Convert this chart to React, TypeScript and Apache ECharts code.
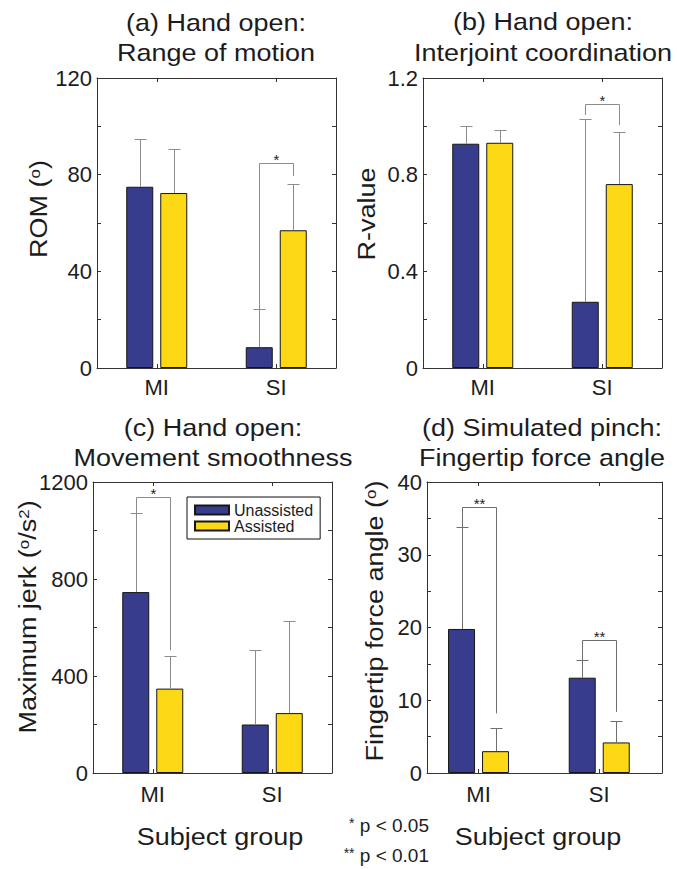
import React, { useEffect, useRef } from 'react';
import * as echarts from 'echarts';

// ---------------- data ----------------
const groups = ['MI', 'SI'];
const seriesNames = ['Unassisted', 'Assisted'];

// (a) Range of motion (deg)
const romUnassisted = [75, 8.6];
const romUnassistedSd = [19.7, 15.8];
const romAssisted = [72.4, 57];
const romAssistedSd = [18.2, 19];

// (b) Interjoint coordination (R-value)
const rUnassisted = [0.928, 0.274];
const rUnassistedSd = [0.074, 0.755];
const rAssisted = [0.932, 0.761];
const rAssistedSd = [0.054, 0.214];

// (c) Maximum jerk (deg/s^2)
const jerkUnassisted = [746, 200];
const jerkUnassistedSd = [326, 306];
const jerkAssisted = [348, 247];
const jerkAssistedSd = [134, 381];

// (d) Fingertip force angle (deg)
const angleUnassisted = [19.8, 13.1];
const angleUnassistedSd = [14.0, 2.4];
const angleAssisted = [3.0, 4.2];
const angleAssistedSd = [3.25, 3.0];

// y-axis ticks: [max, tick step, label step]
const romTicks = [120, 20, 40];
const rTicks = [1.2, 0.2, 0.4];
const jerkTicks = [1200, 200, 400];
const angleTicks = [40, 5, 10];

// significance brackets: [group index, bracket level, left leg end, right leg end]
const romBrackets = [[1, 84.7, 24.4, 79.4]];
const romBracketLabels = ['*'];
const rBrackets = [[1, 1.093, 1.047, 1.005]];
const rBracketLabels = ['*'];
const jerkBrackets = [[0, 1138, 1072, 506]];
const jerkBracketLabels = ['*'];
const angleBrackets = [[0, 36.6, 33.8, 8.2], [1, 18.3, 15.5, 8.4]];
const angleBracketLabels = ['**', '**'];

// ---------------- styles ----------------
const FONT = '"Liberation Sans", Arial, Helvetica, sans-serif';
const BLUE = '#373c8d';
const YELLOW = '#fcd815';
const AXIS = '#333333';
const TEXT = '#1c1c1c';
const ERR = '#8c8c8c';
const BAR_W = 27;
const BAR_GAP_PX = 7;
const OFF = (BAR_W + BAR_GAP_PX) / 2;
const CAP = 6;

type Panel = {
  grid: { left: number; top: number; width: number; height: number };
  xRange: [number, number];
  ticks: number[];
  un: number[]; unSd: number[]; as: number[]; asSd: number[];
  brackets: number[][]; bracketLabels: string[];
  errColor: string;
  labelMargin: number;
};

const panels: Panel[] = [
  { grid: { left: 97, top: 78, width: 239, height: 290 }, xRange: [0.5, 2.5], ticks: romTicks,
    un: romUnassisted, unSd: romUnassistedSd, as: romAssisted, asSd: romAssistedSd,
    brackets: romBrackets, bracketLabels: romBracketLabels, errColor: ERR, labelMargin: 8 },
  { grid: { left: 423, top: 78, width: 239, height: 290 }, xRange: [0.5, 2.5], ticks: rTicks,
    un: rUnassisted, unSd: rUnassistedSd, as: rAssisted, asSd: rAssistedSd,
    brackets: rBrackets, bracketLabels: rBracketLabels, errColor: ERR, labelMargin: 8 },
  { grid: { left: 93, top: 482, width: 239, height: 291 }, xRange: [0.5, 2.5], ticks: jerkTicks,
    un: jerkUnassisted, unSd: jerkUnassistedSd, as: jerkAssisted, asSd: jerkAssistedSd,
    brackets: jerkBrackets, bracketLabels: jerkBracketLabels, errColor: ERR, labelMargin: 10 },
  { grid: { left: 427, top: 482, width: 235, height: 291 }, xRange: [0.573, 2.52], ticks: angleTicks,
    un: angleUnassisted, unSd: angleUnassistedSd, as: angleAssisted, asSd: angleAssistedSd,
    brackets: angleBrackets, bracketLabels: angleBracketLabels, errColor: '#6e6e6e', labelMargin: 10 },
];

function fmtLabel(v: number, labelStep: number) {
  const r = Math.round(v / labelStep * 1000) / 1000;
  if (Math.abs(r - Math.round(r)) > 1e-6) return '';
  return String(parseFloat(v.toFixed(3)));
}

function buildOption() {
  const grid: any[] = [];
  const xAxis: any[] = [];
  const yAxis: any[] = [];
  const series: any[] = [];

  panels.forEach((p, i) => {
    grid.push({ ...p.grid, containLabel: false });
    const [ymax, step, labelStep] = p.ticks;
    const tickVals = groups.map((_, k) => k + 1);
    const xBase = {
      type: 'value', gridIndex: i, min: p.xRange[0], max: p.xRange[1],
      splitLine: { show: false },
      axisLine: { show: true, onZero: false, lineStyle: { color: AXIS, width: 1 } },
      axisTick: { show: true, inside: true, length: 4, customValues: tickVals, lineStyle: { color: AXIS } },
    };
    xAxis.push({
      ...xBase, position: 'bottom',
      axisLabel: {
        show: true, customValues: tickVals, margin: p.labelMargin,
        formatter: (v: number) => groups[Math.round(v) - 1] ?? '',
        fontSize: 22, color: TEXT, fontFamily: FONT,
      },
    });
    xAxis.push({ ...xBase, position: 'top', axisLabel: { show: false } });
    const yBase = {
      type: 'value', gridIndex: i, min: 0, max: ymax, interval: step,
      splitLine: { show: false },
      axisLine: { show: true, onZero: false, lineStyle: { color: AXIS, width: 1 } },
      axisTick: { show: true, inside: true, length: 4, lineStyle: { color: AXIS } },
    };
    yAxis.push({
      ...yBase, position: 'left',
      axisLabel: {
        show: true, margin: 5, fontSize: 22, color: TEXT, fontFamily: FONT,
        formatter: (v: number) => fmtLabel(v, labelStep),
      },
    });
    yAxis.push({ ...yBase, position: 'right', axisLabel: { show: false } });

    const xi = 2 * i;
    const yi = 2 * i;
    [p.un, p.as].forEach((vals, s) => {
      series.push({
        type: 'bar', name: seriesNames[s], xAxisIndex: xi, yAxisIndex: yi,
        barWidth: BAR_W, barGap: `${(BAR_GAP_PX / BAR_W) * 100}%`,
        data: vals.map((v, k) => [k + 1, v]),
        itemStyle: { color: s === 0 ? BLUE : YELLOW, borderColor: '#161616', borderWidth: 1 },
        silent: true,
      });
    });

    // error bars
    const errData: number[][] = [];
    groups.forEach((_, k) => {
      errData.push([k + 1, p.un[k], p.unSd[k], -1]);
      errData.push([k + 1, p.as[k], p.asSd[k], 1]);
    });
    const errColor = p.errColor;
    series.push({
      type: 'custom', name: 'err' + i, xAxisIndex: xi, yAxisIndex: yi, silent: true, z: 3,
      encode: { x: 0, y: 1 },
      data: errData,
      renderItem: (params: any, api: any) => {
        const x = api.value(0), m = api.value(1), sd = api.value(2), side = api.value(3);
        const b = api.coord([x, m]);
        const t = api.coord([x, m + sd]);
        const cx = Math.round(b[0] + side * OFF) + 0.5;
        const ty = Math.round(t[1]) + 0.5;
        return {
          type: 'group', children: [
            { type: 'line', shape: { x1: cx, y1: b[1], x2: cx, y2: ty }, style: { stroke: errColor, lineWidth: 1 } },
            { type: 'line', shape: { x1: cx - CAP, y1: ty, x2: cx + CAP, y2: ty }, style: { stroke: errColor, lineWidth: 1 } },
          ],
        };
      },
    });

    // significance brackets
    const labels = p.bracketLabels;
    series.push({
      type: 'custom', name: 'sig' + i, xAxisIndex: xi, yAxisIndex: yi, silent: true, z: 3,
      encode: { x: 0, y: 1 },
      data: p.brackets.map((b) => [b[0] + 1, b[1], b[2], b[3]]),
      renderItem: (params: any, api: any) => {
        const x = api.value(0), lvl = api.value(1), le = api.value(2), re = api.value(3);
        const c = api.coord([x, lvl]);
        const l = api.coord([x, le]);
        const r = api.coord([x, re]);
        const xl = Math.round(c[0] - OFF) + 0.5;
        const xr = Math.round(c[0] + OFF) + 0.5;
        const yl = Math.round(c[1]) + 0.5;
        return {
          type: 'group', children: [
            { type: 'polyline', shape: { points: [[xl, l[1]], [xl, yl], [xr, yl], [xr, r[1]]] },
              style: { stroke: errColor, lineWidth: 1, fill: 'none' } },
            { type: 'text', style: { text: labels[params.dataIndex], x: (xl + xr) / 2, y: yl - 4,
              align: 'center', verticalAlign: 'middle', fontSize: 15, fill: TEXT, fontFamily: FONT } },
          ],
        };
      },
    });
  });

  const T = (x: number, y: number, text: string, extra: any = {}) => ({
    type: 'text', x, y, scaleX: 1.125, silent: true,
    style: { text, align: 'center', verticalAlign: 'middle', fontSize: 24, fill: TEXT, fontFamily: FONT, ...extra },
  });
  const sup = { fontSize: 15, verticalAlign: 'top', fontFamily: FONT, fill: TEXT };
  const norm = { fontSize: 24, fontFamily: FONT, fill: TEXT };

  const graphic: any[] = [
    T(216, 23, '(a) Hand open:'), T(216, 53, 'Range of motion'),
    T(543, 22, '(b) Hand open:'), T(543, 53, 'Interjoint coordination'),
    T(213, 428, '(c) Hand open:'), T(213, 458, 'Movement smoothness'),
    T(542, 428, '(d) Simulated pinch:'), T(542, 458, 'Fingertip force angle'),
    { ...T(39, 209, '{n|ROM (}{s|o}{n|)}', { rich: { n: norm, s: sup } }), rotation: Math.PI / 2 },
    { ...T(367, 214, 'R-value'), rotation: Math.PI / 2 },
    { ...T(28, 617, '{n|Maximum jerk (}{s|o}{n|/s}{s|2}{n|)}', { rich: { n: norm, s: sup } }), rotation: Math.PI / 2 },
    { ...T(375, 621, '{n|Fingertip force angle (}{s|o}{n|)}', { rich: { n: norm, s: sup } }), rotation: Math.PI / 2 },
    T(220, 837, 'Subject group'),
    T(538, 837, 'Subject group'),
    { type: 'text', x: 429, y: 825, silent: true,
      style: { text: '{a|*} p < 0.05', align: 'right', verticalAlign: 'middle', fontSize: 19, fill: TEXT, fontFamily: FONT,
        rich: { a: { fontSize: 14, verticalAlign: 'top', fill: TEXT, fontFamily: FONT } } } },
    { type: 'text', x: 429, y: 855, silent: true,
      style: { text: '{a|**} p < 0.01', align: 'right', verticalAlign: 'middle', fontSize: 19, fill: TEXT, fontFamily: FONT,
        rich: { a: { fontSize: 14, verticalAlign: 'top', fill: TEXT, fontFamily: FONT } } } },
  ];

  return {
    animation: false,
    backgroundColor: '#ffffff',
    textStyle: { fontFamily: FONT },
    legend: {
      data: seriesNames, orient: 'vertical', left: 187, top: 497,
      itemWidth: 34, itemHeight: 9, itemGap: 0, padding: [5, 7, 5, 7],
      borderColor: '#111', borderWidth: 1, backgroundColor: '#fff', icon: 'rect',
      selectedMode: false,
      textStyle: { fontSize: 16, lineHeight: 16, color: TEXT, fontFamily: FONT },
    },
    grid, xAxis, yAxis, series, graphic,
  };
}

export default function App() {
  const ref = useRef<HTMLDivElement>(null);
  useEffect(() => {
    document.body.style.margin = '0';
    if (!ref.current) return;
    const chart = echarts.init(ref.current, undefined, { renderer: 'svg' });
    chart.setOption(buildOption() as any);
    return () => chart.dispose();
  }, []);
  return <div ref={ref} style={{ width: 677, height: 869 }} />;
}
